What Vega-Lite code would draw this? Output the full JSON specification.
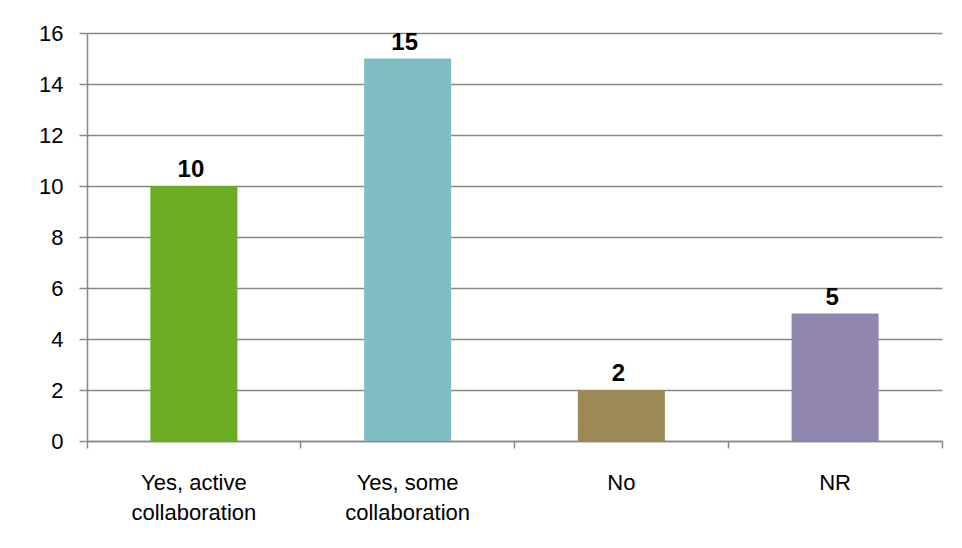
{
  "$schema": "https://vega.github.io/schema/vega-lite/v6.json",
  "width": 855,
  "height": 408,
  "autosize": {"type": "none"},
  "padding": {"left": 87, "top": 33, "right": 20, "bottom": 107},
  "background": "white",
  "config": {
    "view": {"stroke": null},
    "font": "Liberation Sans"
  },
  "data": {
    "values": [
      {"answer": "Yes, active collaboration", "n": 10, "colour": "#6AAC24"},
      {"answer": "Yes, some collaboration", "n": 15, "colour": "#7DBDC3"},
      {"answer": "No", "n": 2, "colour": "#9C8955"},
      {"answer": "NR", "n": 5, "colour": "#9086B0"}
    ]
  },
  "encoding": {
    "x": {
      "field": "answer",
      "type": "nominal",
      "sort": null,
      "scale": {"paddingInner": 0, "paddingOuter": 0},
      "axis": {
        "title": null,
        "labelAngle": 0,
        "labelFont": "Liberation Sans",
        "labelFontSize": 22,
        "labelColor": "#000000",
        "labelLineHeight": 30,
        "labelPadding": 24,
        "labelLimit": 0,
        "labelExpr": "split(replace(isString(datum.value) ? datum.value : '', ' collaboration', '|collaboration'), '|')",
        "bandPosition": 1,
        "tickExtra": true,
        "tickSize": 7,
        "tickColor": "#888888",
        "tickWidth": 1.5,
        "domainColor": "#888888",
        "domainWidth": 1.5,
        "grid": false
      }
    },
    "y": {
      "field": "n",
      "type": "quantitative",
      "scale": {"domain": [0, 16], "nice": false},
      "axis": {
        "title": null,
        "values": [0, 2, 4, 6, 8, 10, 12, 14, 16],
        "labelFont": "Liberation Sans",
        "labelFontSize": 22,
        "labelColor": "#000000",
        "labelPadding": 16,
        "tickSize": 8,
        "tickColor": "#888888",
        "tickWidth": 1.5,
        "domainColor": "#888888",
        "domainWidth": 1.5,
        "grid": true,
        "gridColor": "#888888",
        "gridWidth": 1.5
      }
    }
  },
  "layer": [
    {
      "mark": {"type": "bar", "width": {"band": 0.407}},
      "encoding": {
        "color": {"field": "colour", "type": "nominal", "scale": null, "legend": null}
      }
    },
    {
      "mark": {
        "type": "text",
        "baseline": "alphabetic",
        "dx": -3,
        "dy": -9,
        "font": "Liberation Sans",
        "fontSize": 24,
        "fontWeight": "bold",
        "color": "#000000"
      },
      "encoding": {
        "text": {"field": "n", "type": "quantitative"}
      }
    }
  ]
}
